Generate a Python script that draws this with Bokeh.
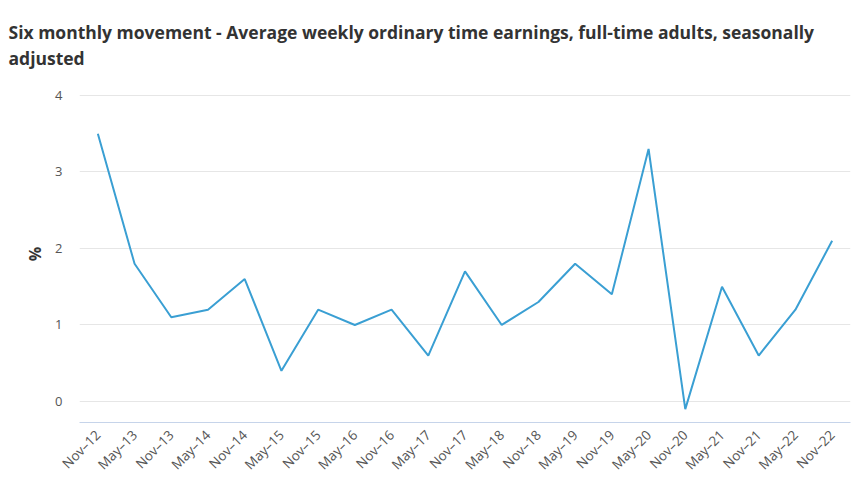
from bokeh.plotting import figure
from bokeh.models import FactorRange, Range1d, Title, FixedTicker
from bokeh.embed import file_html
from bokeh.resources import INLINE
import math

periods = ["Nov–12", "May–13", "Nov–13", "May–14", "Nov–14", "May–15", "Nov–15",
           "May–16", "Nov–16", "May–17", "Nov–17", "May–18", "Nov–18", "May–19",
           "Nov–19", "May–20", "Nov–20", "May–21", "Nov–21", "May–22", "Nov–22"]
movement = [3.5, 1.8, 1.1, 1.2, 1.6, 0.4, 1.2, 1.0, 1.2, 0.6, 1.7, 1.0, 1.3, 1.8,
            1.4, 3.3, -0.1, 1.5, 0.6, 1.2, 2.1]
y_ticks = [0, 1, 2, 3, 4]
title_text = ("Six monthly movement - Average weekly ordinary time earnings, full-time adults, seasonally\n"
              "adjusted")
y_label = "%"

p = figure(width=865, height=490, x_range=FactorRange(factors=periods),
           y_range=Range1d(-0.275, 4.13), output_backend="svg", toolbar_location=None,
           min_border_left=79, min_border_right=15, min_border_bottom=68, min_border_top=85)
p.outline_line_color = None
p.background_fill_color = "white"
p.border_fill_color = "white"

font = "Open Sans"
p.add_layout(Title(text=title_text, text_font=font, text_font_size="17.5px", text_font_style="bold",
                   text_color="#333333", align="left", offset=-71, standoff=30,
                   text_line_height=1.1), "above")

p.line(periods, movement, line_color="#3a9fd3", line_width=2)

p.xgrid.grid_line_color = None
p.ygrid.grid_line_color = "#e6e6e6"
p.yaxis.ticker = FixedTicker(ticks=y_ticks)
p.yaxis.axis_line_color = None
p.yaxis.major_tick_line_color = None
p.yaxis.minor_tick_line_color = None
p.yaxis.major_tick_out = 0
p.yaxis.minor_tick_out = 0
p.yaxis.major_label_text_font = font
p.yaxis.major_label_text_font_size = "13px"
p.yaxis.major_label_text_color = "#555555"
p.yaxis.major_label_standoff = 17
p.yaxis.axis_label = y_label
p.yaxis.axis_label_text_font = font
p.yaxis.axis_label_text_font_size = "16px"
p.yaxis.axis_label_text_font_style = "bold"
p.yaxis.axis_label_text_color = "#333333"
p.yaxis.axis_label_standoff = 6

p.xaxis.axis_line_color = "#c6d4ea"
p.xaxis.major_tick_line_color = None
p.xaxis.minor_tick_line_color = None
p.xaxis.major_tick_out = 0
p.xaxis.minor_tick_out = 0
p.xaxis.major_label_orientation = math.pi / 4
p.xaxis.major_label_text_font = font
p.xaxis.major_label_text_font_size = "13.5px"
p.xaxis.major_label_text_color = "#555555"
p.xaxis.major_label_standoff = 10

open("out.html", "w").write(file_html(p, INLINE))
